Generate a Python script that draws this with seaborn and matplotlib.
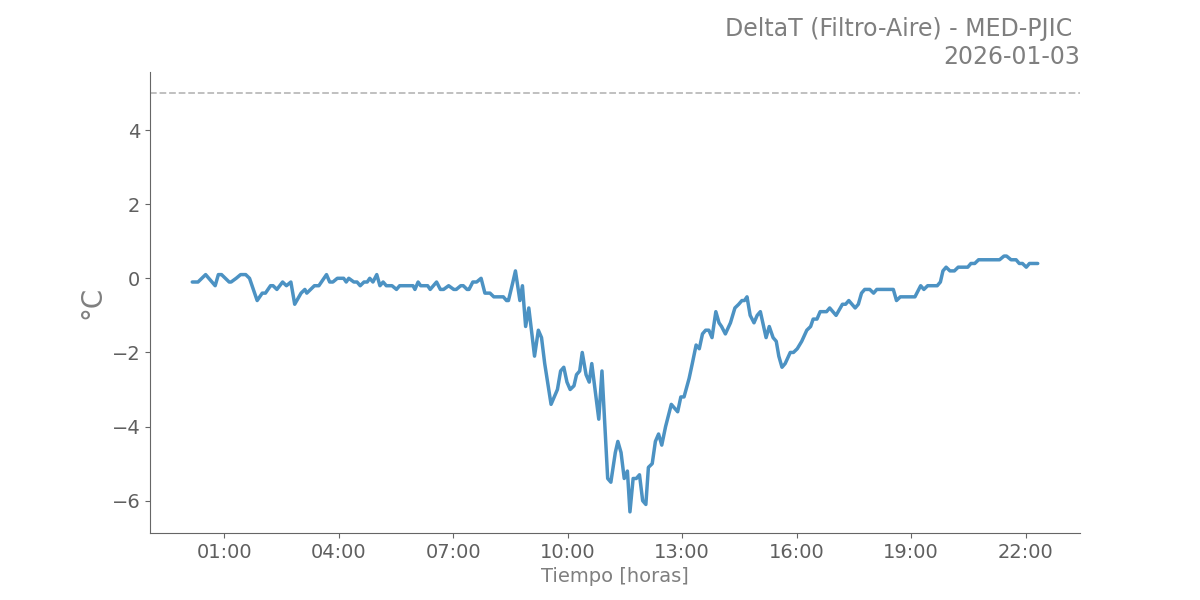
import pandas as pd
import numpy as np
import matplotlib
matplotlib.use('Agg')
import matplotlib.pyplot as plt
import matplotlib.dates as mdates
import seaborn as sns

# Hora de cada lectura (HH:MM) y su DeltaT en °C
horas = [
    '00:10', '00:19', '00:31', '00:46', '00:51', '00:56', '01:08', '01:11', '01:19', '01:26',
    '01:34', '01:40', '01:52', '02:00', '02:05', '02:13', '02:17', '02:23', '02:32', '02:38',
    '02:45', '02:51', '03:01', '03:07', '03:10', '03:22', '03:29', '03:41', '03:46', '03:51',
    '03:58', '04:08', '04:12', '04:16', '04:24', '04:29', '04:34', '04:40', '04:45', '04:49',
    '04:54', '05:00', '05:05', '05:10', '05:15', '05:24', '05:31', '05:36', '05:57', '06:00',
    '06:05', '06:09', '06:20', '06:24', '06:34', '06:40', '06:45', '06:53', '07:01', '07:05',
    '07:12', '07:16', '07:22', '07:25', '07:31', '07:37', '07:44', '07:50', '07:58', '08:04',
    '08:19', '08:24', '08:27', '08:34', '08:38', '08:45', '08:49', '08:54', '08:59', '09:08',
    '09:14', '09:19', '09:24', '09:34', '09:44', '09:49', '09:54', '09:59', '10:04', '10:10',
    '10:14', '10:19', '10:23', '10:29', '10:34', '10:38', '10:49', '10:54', '11:03', '11:08',
    '11:15', '11:19', '11:24', '11:29', '11:34', '11:38', '11:43', '11:48', '11:53', '11:58',
    '12:03', '12:07', '12:13', '12:18', '12:23', '12:28', '12:34', '12:43', '12:53', '12:58',
    '13:03', '13:11', '13:16', '13:22', '13:27', '13:32', '13:37', '13:42', '13:47', '13:53',
    '13:58', '14:02', '14:08', '14:16', '14:23', '14:29', '14:34', '14:38', '14:42', '14:47',
    '14:53', '14:58', '15:03', '15:12', '15:17', '15:23', '15:28', '15:32', '15:37', '15:42',
    '15:50', '15:55', '16:01', '16:08', '16:16', '16:22', '16:26', '16:32', '16:37', '16:47',
    '16:52', '17:02', '17:12', '17:17', '17:22', '17:32', '17:37', '17:42', '17:47', '17:55',
    '18:01', '18:06', '18:32', '18:37', '18:43', '19:06', '19:15', '19:20', '19:26', '19:41',
    '19:46', '19:50', '19:55', '20:01', '20:08', '20:14', '20:29', '20:34', '20:40', '20:46',
    '21:19', '21:26', '21:30', '21:37', '21:45', '21:50', '21:55', '22:01', '22:06', '22:19',
]
delta_t = [
    -0.1, -0.1, 0.1, -0.2, 0.1, 0.1, -0.1, -0.1, 0.0, 0.1,
    0.1, 0.0, -0.6, -0.4, -0.4, -0.2, -0.2, -0.3, -0.1, -0.2,
    -0.1, -0.7, -0.4, -0.3, -0.4, -0.2, -0.2, 0.1, -0.1, -0.1,
    0.0, 0.0, -0.1, 0.0, -0.1, -0.1, -0.2, -0.1, -0.1, 0.0,
    -0.1, 0.1, -0.2, -0.1, -0.2, -0.2, -0.3, -0.2, -0.2, -0.3,
    -0.1, -0.2, -0.2, -0.3, -0.1, -0.3, -0.3, -0.2, -0.3, -0.3,
    -0.2, -0.2, -0.3, -0.3, -0.1, -0.1, 0.0, -0.4, -0.4, -0.5,
    -0.5, -0.6, -0.6, -0.1, 0.2, -0.6, -0.2, -1.3, -0.8, -2.1,
    -1.4, -1.6, -2.3, -3.4, -3.0, -2.5, -2.4, -2.8, -3.0, -2.9,
    -2.6, -2.5, -2.0, -2.6, -2.8, -2.3, -3.8, -2.5, -5.4, -5.5,
    -4.7, -4.4, -4.7, -5.4, -5.2, -6.3, -5.4, -5.4, -5.3, -6.0,
    -6.1, -5.1, -5.0, -4.4, -4.2, -4.5, -4.0, -3.4, -3.6, -3.2,
    -3.2, -2.7, -2.3, -1.8, -1.9, -1.5, -1.4, -1.4, -1.6, -0.9,
    -1.2, -1.3, -1.5, -1.2, -0.8, -0.7, -0.6, -0.6, -0.5, -1.0,
    -1.2, -1.0, -0.9, -1.6, -1.3, -1.6, -1.7, -2.1, -2.4, -2.3,
    -2.0, -2.0, -1.9, -1.7, -1.4, -1.3, -1.1, -1.1, -0.9, -0.9,
    -0.8, -1.0, -0.7, -0.7, -0.6, -0.8, -0.7, -0.4, -0.3, -0.3,
    -0.4, -0.3, -0.3, -0.6, -0.5, -0.5, -0.2, -0.3, -0.2, -0.2,
    -0.1, 0.2, 0.3, 0.2, 0.2, 0.3, 0.3, 0.4, 0.4, 0.5,
    0.5, 0.6, 0.6, 0.5, 0.5, 0.4, 0.4, 0.3, 0.4, 0.4,
]
fecha = '2026-01-03'
limite = 5.0

df = pd.DataFrame({
    'tiempo': pd.to_datetime([fecha + ' ' + h for h in horas]),
    'delta_t': delta_t,
})

sns.set_style('ticks')
gris = '#7f7f7f'

fig, ax = plt.subplots(figsize=(12, 6), dpi=100)
fig.subplots_adjust(left=0.125, right=0.9, top=0.88, bottom=0.112)

sns.lineplot(data=df, x='tiempo', y='delta_t', ax=ax,
             color='#1f77b4', alpha=0.8, linewidth=2.5)
ax.axhline(limite, color='#bbbbbb', linestyle='--', linewidth=1.3)

ax.xaxis.set_major_locator(mdates.HourLocator(byhour=range(1, 24, 3)))
ax.xaxis.set_major_formatter(mdates.DateFormatter('%H:%M'))
ax.set_yticks([-6, -4, -2, 0, 2, 4])

ax.set_xlabel('Tiempo [horas]', fontsize=14, color=gris)
ax.set_ylabel('°C', fontsize=20, color=gris)
ax.set_title('DeltaT (Filtro-Aire) - MED-PJIC \n' + fecha,
             loc='right', fontsize=17, color=gris)

ax.tick_params(axis='both', labelsize=14, colors='#666666', labelcolor='#5f5f5f')
for s in ['left', 'bottom']:
    ax.spines[s].set_color('#666666')
sns.despine(ax=ax)

fig.savefig('out.png', dpi=100)
